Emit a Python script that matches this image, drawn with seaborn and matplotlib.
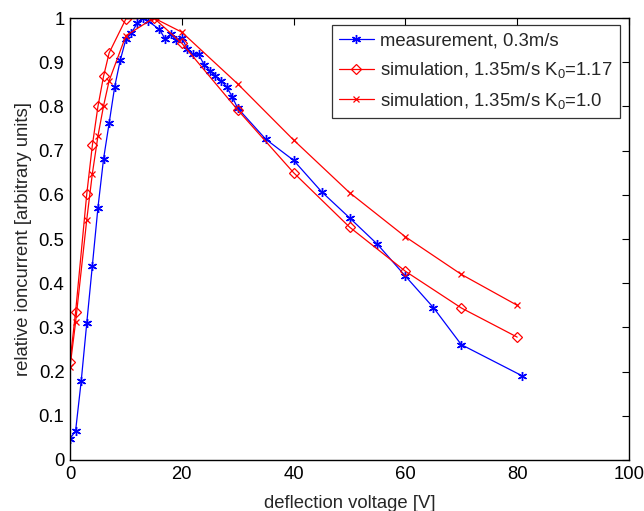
import matplotlib
matplotlib.use("Agg")
import matplotlib.pyplot as plt
import seaborn as sns
import pandas as pd

# measurement, 0.3 m/s
meas_v = [0, 1, 2, 3, 4, 5, 6, 7, 8, 9, 10, 11, 12, 13, 14, 16, 17, 18, 19, 20,
          21, 22, 23, 24, 25, 26, 27, 28, 29, 30, 35, 40, 45, 50, 55, 60, 65, 70, 80.8]
meas_i = [0.048, 0.066, 0.178, 0.31, 0.44, 0.571, 0.681, 0.762, 0.845, 0.905, 0.952,
          0.966, 0.988, 1.0, 0.993, 0.974, 0.953, 0.963, 0.951, 0.955,
          0.93, 0.918, 0.918, 0.894, 0.881, 0.869, 0.858, 0.845, 0.822, 0.796,
          0.726, 0.678, 0.607, 0.548, 0.488, 0.416, 0.345, 0.261, 0.191]

# simulation, 1.35 m/s K0=1.17
sim1_v = [0, 1, 3, 4, 5, 6, 7, 10, 15, 20, 30, 40, 50, 60, 70, 80]
sim1_i = [0.222, 0.335, 0.602, 0.712, 0.800, 0.868, 0.921, 0.998, 1.0, 0.943,
          0.792, 0.650, 0.527, 0.427, 0.344, 0.278]

# simulation, 1.35 m/s K0=1.0
sim2_v = [0, 1, 3, 4, 5, 6, 7, 10, 15, 20, 30, 40, 50, 60, 70, 80]
sim2_i = [0.210, 0.312, 0.544, 0.648, 0.733, 0.801, 0.858, 0.960, 1.0, 0.968,
          0.851, 0.724, 0.605, 0.505, 0.420, 0.350]

labels = ["measurement, 0.3m/s",
          "simulation, 1.35m/s K$_0$=1.17",
          "simulation, 1.35m/s K$_0$=1.0"]

xticks = [0, 20, 40, 60, 80, 100]
yticks = [0, 0.1, 0.2, 0.3, 0.4, 0.5, 0.6, 0.7, 0.8, 0.9, 1.0]
yticklabels = ["0", "0.1", "0.2", "0.3", "0.4", "0.5", "0.6", "0.7", "0.8", "0.9", "1"]

sns.set_theme(style="white")
plt.rcParams["font.family"] = ["Liberation Sans", "DejaVu Sans"]
plt.rcParams["mathtext.default"] = "regular"

FS = 13.3

fig = plt.figure(figsize=(6.44, 5.11), dpi=100)
ax = fig.add_axes([70 / 644, 1 - 460 / 511, (629 - 70) / 644, (460 - 18) / 511])

d_meas = pd.DataFrame({"v": meas_v, "i": meas_i})
d_sim1 = pd.DataFrame({"v": sim1_v, "i": sim1_i})
d_sim2 = pd.DataFrame({"v": sim2_v, "i": sim2_i})

asterisk = (6, 2, 0)
sns.lineplot(data=d_meas, x="v", y="i", ax=ax, sort=False, estimator=None,
             color="#0000ff", lw=0.9, marker=asterisk, markersize=6.5,
             markeredgewidth=1.0, markeredgecolor="#0000ff", label=labels[0])
sns.lineplot(data=d_sim1, x="v", y="i", ax=ax, sort=False, estimator=None,
             color="#ff0000", lw=0.9, marker="D", markersize=5.5,
             markerfacecolor="none", markeredgecolor="#ff0000",
             markeredgewidth=0.9, label=labels[1])
sns.lineplot(data=d_sim2, x="v", y="i", ax=ax, sort=False, estimator=None,
             color="#ff0000", lw=0.9, marker="x", markersize=4,
             markeredgecolor="#ff0000", markeredgewidth=0.9, label=labels[2])

ax.set_xlim(0, 100)
ax.set_ylim(0, 1)
ax.set_xticks(xticks)
ax.set_yticks(yticks)
ax.set_yticklabels(yticklabels)
ax.tick_params(direction="in", length=5, width=0.8, top=True, right=True,
               labelsize=FS, colors="black", pad=4)
for s in ax.spines.values():
    s.set_color("black")
    s.set_linewidth(1.0)

ax.set_xlabel("deflection voltage [V]", fontsize=FS, labelpad=9)
ax.set_ylabel("relative ioncurrent [arbitrary units]", fontsize=FS, labelpad=5)

leg = ax.legend(loc="upper right", bbox_to_anchor=(0.984, 0.984), borderaxespad=0,
                fontsize=FS, frameon=True, fancybox=False, edgecolor="black",
                handlelength=1.85, borderpad=0.4, labelspacing=0.58,
                handletextpad=0.35)
leg.get_frame().set_linewidth(0.9)

fig.savefig("out.png", dpi=100)
